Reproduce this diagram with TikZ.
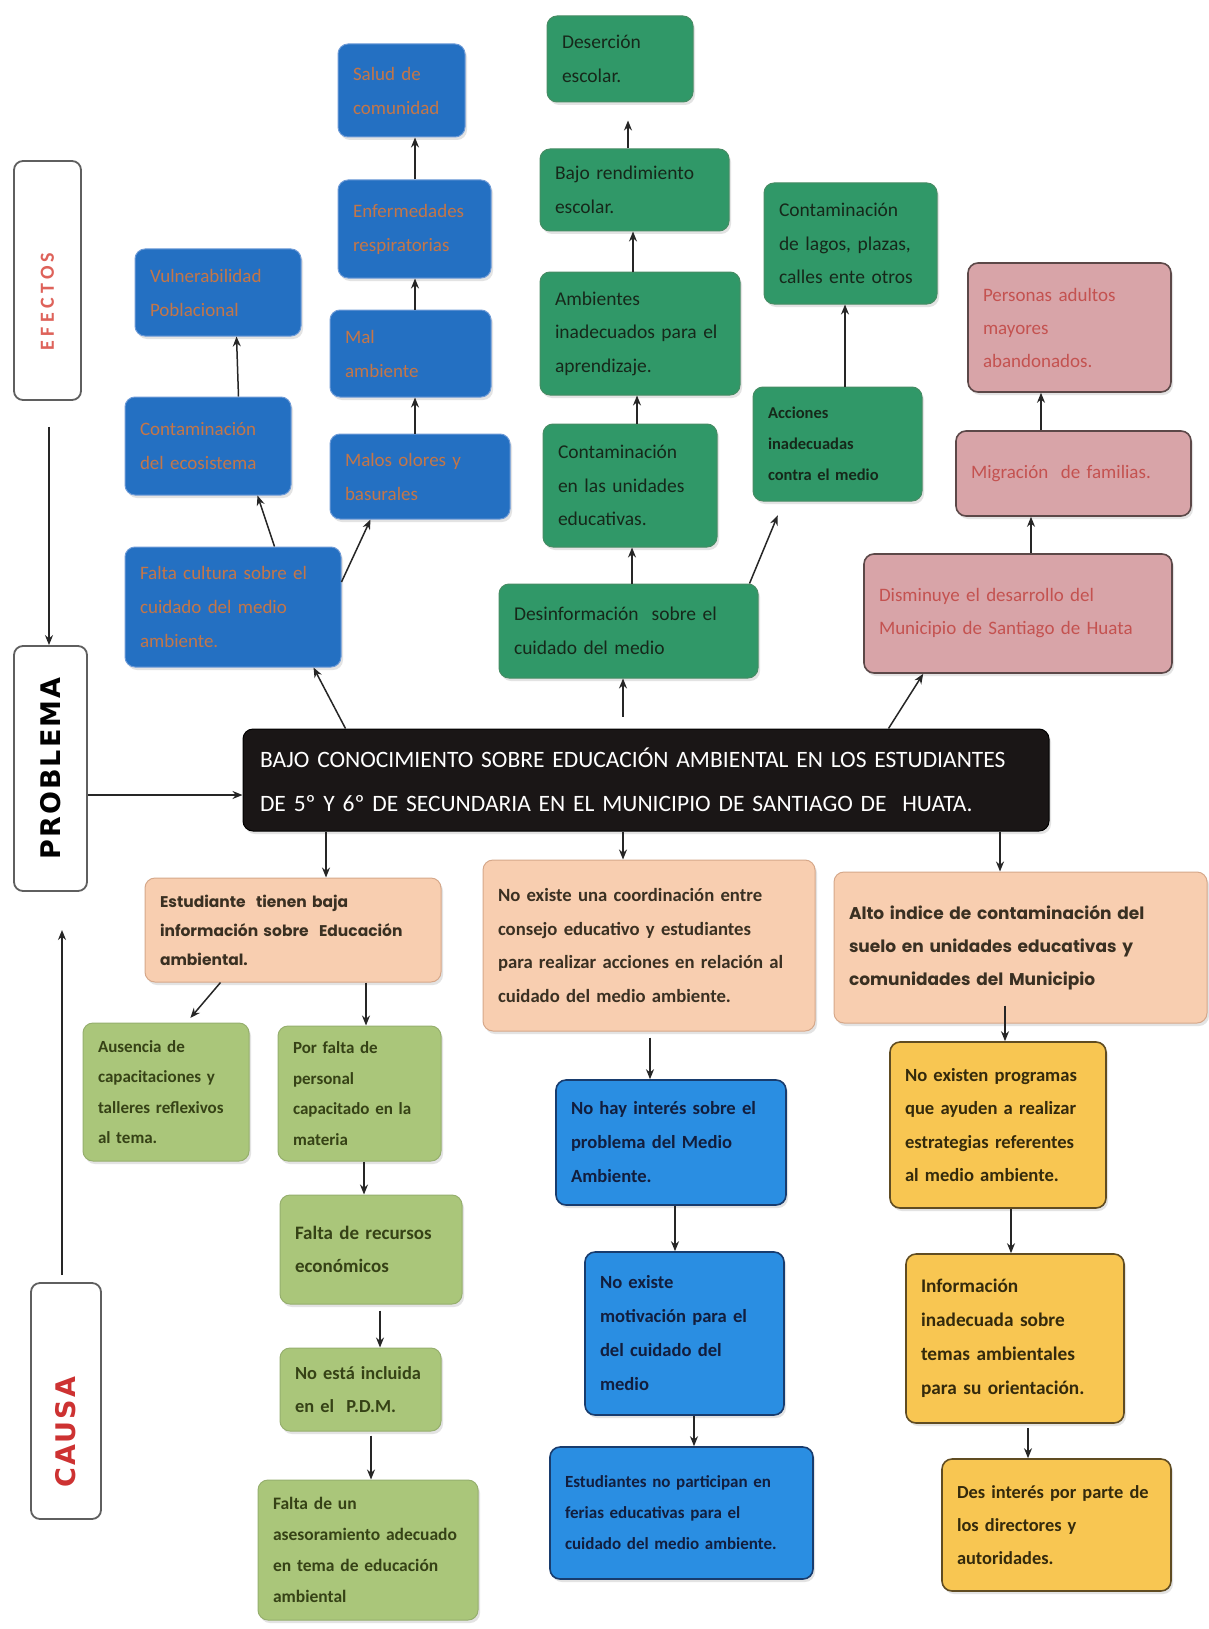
\documentclass[tikz,border=0pt]{standalone}
\usepackage{fontspec}
\setmainfont{Carlito}
\newfontfamily\pop{Poppins}
\newfontfamily\dvsp[LetterSpace=8]{DejaVu Sans}
\newfontfamily\carsp[LetterSpace=22]{Carlito}
\usetikzlibrary{arrows.meta,shadows}
\definecolor{ebluef}{RGB}{36,112,194}
\definecolor{ebluet}{RGB}{196,118,72}
\definecolor{egreenf}{RGB}{48,152,104}
\definecolor{egreent}{RGB}{22,40,26}
\definecolor{epinkf}{RGB}{216,164,168}
\definecolor{epinkd}{RGB}{92,72,72}
\definecolor{epinkt}{RGB}{196,82,80}
\definecolor{cpeachf}{RGB}{248,206,176}
\definecolor{cpeachd}{RGB}{214,168,138}
\definecolor{cpeacht}{RGB}{58,48,34}
\definecolor{clgreenf}{RGB}{170,198,122}
\definecolor{clgreent}{RGB}{54,66,22}
\definecolor{cbluef}{RGB}{42,142,226}
\definecolor{cblued}{RGB}{24,60,110}
\definecolor{cbluet}{RGB}{18,30,62}
\definecolor{cyellowf}{RGB}{248,198,82}
\definecolor{cyellowd}{RGB}{96,76,34}
\definecolor{cyellowt}{RGB}{52,42,12}
\definecolor{blkf}{RGB}{26,22,22}
\definecolor{arrc}{RGB}{38,38,38}
\hyphenpenalty=10000
\exhyphenpenalty=10000
\newcommand\fz[2]{\fontsize{#1}{#2}\selectfont}
\newcommand\bx[7]{%
 \pgfmathsetmacro\bxw{#4-#2}\pgfmathsetmacro\bxh{#5-#3}\pgfmathsetmacro\bxt{#4-#2-30}%
 \pgfmathsetmacro\bxx{(#2+#4)/2}\pgfmathsetmacro\bxy{(#3+#5)/2}%
 \node[#6,minimum width=\bxw pt,minimum height=\bxh pt,text width=\bxt pt] (#1) at (\bxx,\bxy) {#7};}
\tikzset{
 basebox/.style={rounded corners=10pt,align=left,inner xsep=15pt,inner ysep=6pt,
   drop shadow={opacity=0.22,shadow xshift=2pt,shadow yshift=-3pt}},
 eblue/.style={basebox,fill=ebluef,draw={rgb,255:red,110;green,155;blue,215},line width=1pt,text=ebluet,font=\fz{19}{34}},
 egreen/.style={basebox,fill=egreenf,draw={rgb,255:red,70;green,140;blue,100},line width=1pt,text=egreent,font=\fz{19.5}{33.5}},
 epink/.style={basebox,fill=epinkf,draw=epinkd,line width=1.6pt,text=epinkt,font=\fz{19}{33}},
 cpeach/.style={basebox,fill=cpeachf,draw=cpeachd,line width=1pt,text=cpeacht},
 clgreen/.style={basebox,fill=clgreenf,draw={rgb,255:red,150;green,175;blue,110},line width=1pt,text=clgreent,font=\bfseries\fz{17}{30.5}},
 cblue/.style={basebox,fill=cbluef,draw=cblued,line width=1.6pt,text=cbluet,font=\bfseries\fz{18.6}{34}},
 cyellow/.style={basebox,fill=cyellowf,draw=cyellowd,line width=1.6pt,text=cyellowt,font=\bfseries\fz{18.6}{33.5}},
 blk/.style={basebox,fill=blkf,draw=black,line width=1pt,text=white,font=\fz{23.5}{44},inner xsep=17pt},
 side/.style={rounded corners=9pt,fill=white,draw={rgb,255:red,95;green,95;blue,95},line width=1.8pt},
 arr/.style={draw=arrc,line width=1.5pt,-{Stealth[length=10pt,width=8pt]}}
}
\begin{document}
\begin{tikzpicture}[x=1pt,y=-1pt]
\useasboundingbox[fill=white] (0,0) rectangle (1208,1629);
% ---------- side labels
\bx{efe}{14}{161}{81}{400}{side}{}
\node[rotate=90,text={rgb,255:red,222;green,98;blue,90},font=\carsp\bfseries\fz{20}{22}] (efet) at ([yshift=-21pt]efe.center) {EFECTOS};
\bx{prob}{14}{646}{87}{891}{side}{}
\node[rotate=90,text=black,font=\dvsp\bfseries\fz{27}{30}] (probt) at (prob) {PROBLEMA};
\bx{cau}{31}{1283}{101}{1519}{side}{}
\node[rotate=90,text={rgb,255:red,205;green,50;blue,50},font=\dvsp\bfseries\fz{27}{30}] (caut) at ([yshift=-31pt]cau.center) {CAUSA};
\coordinate (czend) at (62,930);
% ---------- central problem
\bx{blk}{245}{729}{1047}{831}{blk}{BAJO CONOCIMIENTO SOBRE EDUCACIÓN AMBIENTAL EN LOS ESTUDIANTES\\DE 5º Y 6º DE SECUNDARIA EN EL MUNICIPIO DE SANTIAGO DE~~HUATA.}
% ---------- effects: blue
\bx{B1}{338}{44}{465}{137}{eblue}{Salud de\\comunidad}
\bx{B2}{338}{180}{491}{278}{eblue}{Enfermedades\\respiratorias}
\bx{B3}{330}{310}{491}{397}{eblue}{Mal\\ambiente}
\bx{B4}{330}{434}{510}{519}{eblue}{Malos olores y\\basurales}
\bx{B5}{135}{249}{301}{336}{eblue}{Vulnerabilidad\\Poblacional}
\bx{B6}{125}{397}{291}{495}{eblue}{Contaminación\\del ecosistema}
\bx{B7}{125}{547}{341}{667}{eblue}{Falta cultura sobre el\\cuidado del medio\\ambiente.}
% ---------- effects: green
\bx{G1}{547}{16}{693}{102}{egreen}{Deserción\\escolar.}
\bx{G2}{540}{149}{729}{231}{egreen}{Bajo rendimiento\\escolar.}
\bx{G3}{540}{272}{740}{395}{egreen}{Ambientes\\inadecuados para el\\aprendizaje.}
\bx{G4}{543}{424}{717}{547}{egreen}{Contaminación\\en las unidades\\educativas.}
\bx{G5}{499}{584}{758}{678}{egreen}{Desinformación~ sobre el\\cuidado del medio}
\bx{G6}{764}{183}{937}{304}{egreen}{Contaminación\\de lagos, plazas,\\calles ente otros}
\bx{G7}{753}{387}{922}{501}{egreen,font=\bfseries\fz{16.5}{31}}{Acciones\\inadecuadas\\contra el medio}
% ---------- effects: pink
\bx{P1}{968}{263}{1171}{392}{epink}{Personas adultos\\mayores\\abandonados.}
\bx{P2}{956}{431}{1191}{516}{epink}{Migración~ de familias.\\[43pt]}
\bx{P3}{864}{554}{1172}{673}{epink}{Disminuye el desarrollo del\\Municipio de Santiago de Huata\\[41pt]}
% ---------- causes: first level
\bx{C1}{145}{878}{441}{982}{cpeach,font=\pop\bfseries\fz{15.5}{29}}{Estudiante~ tienen baja\\información sobre~ Educación\\ambiental.}
\bx{C2}{483}{860}{815}{1031}{cpeach,font=\bfseries\fz{18.7}{33.5}}{No existe una coordinación entre\\consejo educativo y estudiantes\\para realizar acciones en relación al\\cuidado del medio ambiente.}
\bx{C3}{834}{872}{1207}{1023}{cpeach,font=\pop\bfseries\fz{17}{33}}{Alto indice de contaminación del\\suelo en unidades educativas y\\comunidades del Municipio\\[50pt]}
% ---------- causes: light green
\bx{L1}{83}{1023}{249}{1161}{clgreen}{Ausencia de\\capacitaciones y\\talleres reflexivos\\al tema.}
\bx{L2}{278}{1026}{441}{1161}{clgreen}{Por falta de\\personal\\capacitado en la\\materia}
\bx{L3}{280}{1195}{462}{1304}{clgreen,font=\bfseries\fz{19}{33.5}}{Falta de recursos\\económicos\\[44pt]}
\bx{L4}{280}{1348}{441}{1431}{clgreen,font=\bfseries\fz{18.4}{33}}{No está incluida\\en el~ P.D.M.}
\bx{L5}{258}{1480}{478}{1620}{clgreen,font=\bfseries\fz{17.5}{31}}{Falta de un\\\mbox{asesoramiento adecuado}\\en tema de educación\\ambiental}
% ---------- causes: blue
\bx{M1}{556}{1080}{786}{1205}{cblue}{No hay interés sobre el\\problema del Medio\\Ambiente.}
\bx{M2}{585}{1252}{784}{1415}{cblue}{No existe\\motivación para el\\del cuidado del\\medio}
\bx{M3}{550}{1447}{813}{1579}{cblue,font=\bfseries\fz{17}{31}}{Estudiantes no participan en\\ferias educativas para el\\cuidado del medio ambiente.}
% ---------- causes: yellow
\bx{Y1}{890}{1042}{1106}{1208}{cyellow}{No existen programas\\que ayuden a realizar\\estrategias referentes\\al medio ambiente.}
\bx{Y2}{906}{1254}{1124}{1423}{cyellow,font=\bfseries\fz{19.3}{34}}{Información\\inadecuada sobre\\temas ambientales\\para su orientación.}
\bx{Y3}{942}{1459}{1171}{1591}{cyellow,font=\bfseries\fz{18.4}{32.7}}{Des interés por parte de\\los directores y\\autoridades.}
% ---------- connectors: side
\draw[arr] (49,0 |- efe.south) ++(0,26) -- (49,0 |- prob.north);
\draw[arr] (prob.east |- 0,795) -- (blk.west |- 0,795);
\draw[arr] (62,0 |- cau.north) ++(0,-7) -- (czend);
% ---------- connectors: effects
\draw[arr] ([xshift=103pt]blk.north west) -- ([xshift=189pt]B7.south west);
\draw[arr] ([xshift=150pt]B7.north west) -- ([xshift=133pt]B6.south west);
\draw[arr] ([xshift=114pt]B6.north west) -- ([xshift=102pt]B5.south west);
\draw[arr] ([yshift=25pt]B7.east) -- ([xshift=41pt]B4.south west);
\draw[arr] (415,0 |- B4.north) -- (415,0 |- B3.south);
\draw[arr] (415,0 |- B3.north) -- (415,0 |- B2.south);
\draw[arr] (415,0 |- B2.north) -- (415,0 |- B1.south);
\draw[arr] (623,0 |- blk.north) ++(0,-12) -- (623,0 |- G5.south);
\draw[arr] (632,0 |- G5.north) -- (632,0 |- G4.south);
\draw[arr] (637,0 |- G4.north) -- (637,0 |- G3.south);
\draw[arr] (633,0 |- G3.north) -- (633,0 |- G2.south);
\draw[arr,shorten >=18pt] (628,0 |- G2.north) -- (628,0 |- G1.south);
\draw[arr,shorten >=15pt] ([xshift=251pt]G5.north west) -- ([xshift=31pt]G7.south west);
\draw[arr] (845,0 |- G7.north) -- (845,0 |- G6.south);
\draw[arr] ([xshift=646pt]blk.north west) -- ([xshift=60pt]P3.south west);
\draw[arr] (1031,0 |- P3.north) -- (1031,0 |- P2.south);
\draw[arr] (1041,0 |- P2.north) -- (1041,0 |- P1.south);
% ---------- connectors: causes
\draw[arr] (326,0 |- blk.south) -- (326,0 |- C1.north);
\draw[arr] (623,0 |- blk.south) -- (623,0 |- C2.north);
\draw[arr] (1000,0 |- blk.south) -- (1000,0 |- C3.north);
\draw[arr,shorten >=6pt] ([xshift=76pt]C1.south west) -- ([xshift=104pt]L1.north west);
\draw[arr] (366,0 |- C1.south) -- (366,0 |- L2.north);
\draw[arr] (364,0 |- L2.south) -- (364,0 |- L3.north);
\draw[arr] (380,0 |- L3.south) ++(0,6) -- (380,0 |- L4.north);
\draw[arr] (371,0 |- L4.south) ++(0,4) -- (371,0 |- L5.north);
\draw[arr] (650,0 |- C2.south) ++(0,6) -- (650,0 |- M1.north);
\draw[arr] (675,0 |- M1.south) -- (675,0 |- M2.north);
\draw[arr] (694,0 |- M2.south) -- (694,0 |- M3.north);
\draw[arr] (1005,0 |- C3.south) ++(0,-18) -- (1005,0 |- Y1.north);
\draw[arr] (1011,0 |- Y1.south) -- (1011,0 |- Y2.north);
\draw[arr] (1028,0 |- Y2.south) ++(0,4) -- (1028,0 |- Y3.north);
\end{tikzpicture}
\end{document}
